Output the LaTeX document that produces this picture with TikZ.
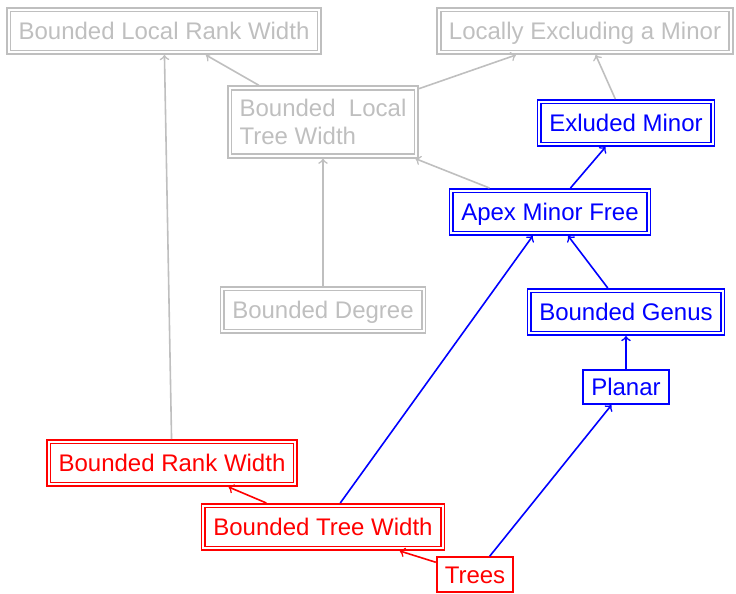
\documentclass[tikz,border=0pt]{standalone}
\usepackage{xcolor}
\usepackage{fontspec}
\setmainfont{Liberation Sans}
\usepackage{tikz}
\usetikzlibrary{arrows}

\tikzset{
  dbox/.style={draw,double,line width=0.85pt,double distance=1pt,outer sep=1.35pt,
    inner xsep=5pt,minimum height=21.3pt,text height=9.5pt,text depth=1pt},
  sbox/.style={draw,line width=1pt,outer sep=0.5pt,inner xsep=4pt,
    minimum height=17pt,text height=9.5pt,text depth=1pt},
  graybox/.style={dbox,draw=lightgray,text=lightgray},
  bluebox/.style={dbox,draw=blue,text=blue},
  redbox/.style={dbox,draw=red,text=red}
}

\begin{document}
\begin{tikzpicture}[->,x=0.5pt,y=-0.5pt,line width=0.8pt,
  font=\fontsize{12}{14}\selectfont]
\useasboundingbox (0,0) rectangle (736,594);

\node[graybox] (BLRW) at (164,31) {Bounded Local Rank Width};
\node[graybox] (LEM) at (585,31) {Locally Excluding a Minor};
\node[graybox,align=left,minimum height=34pt,text height=,text depth=] (BLTW) at (323,122) {Bounded\ \ Local\\Tree Width};
\node[bluebox] (EM) at (626,123) {Exluded Minor};
\node[bluebox] (AMF) at (550,212) {Apex Minor Free};
\node[graybox] (BD) [below of = BLTW,node distance=94pt] {Bounded Degree};
\node[bluebox] (BG) [below of = EM,node distance=94.5pt] {Bounded Genus};
\node[sbox,draw=blue,text=blue] (P) [below of = BG,node distance=37.5pt] {Planar};
\node[redbox] (BRW) at (172,463) {Bounded Rank Width};
\node[redbox] (BTW) [below of = BD,node distance=108.5pt] {Bounded Tree Width};
\node[sbox,draw=red,text=red] (T) at (475,574.5) {Trees};

\path[lightgray] (BRW) edge (BLRW);
\path[lightgray] (BLTW) edge (BLRW);
\path[lightgray] (BLTW) edge (LEM);
\path[lightgray] (EM) edge (LEM);
\path[lightgray] (AMF) edge (BLTW);
\path[lightgray] (BD) edge (BLTW);
\path[blue] (AMF) edge (EM);
\path[blue] (BG) edge (AMF);
\path[blue] (P) edge (BG);
\path[blue] (BTW) edge (AMF);
\path[blue] (T) edge (P);
\path[red] (T) edge (BTW);
\path[red] (BTW) edge (BRW);

\end{tikzpicture}
\end{document}
